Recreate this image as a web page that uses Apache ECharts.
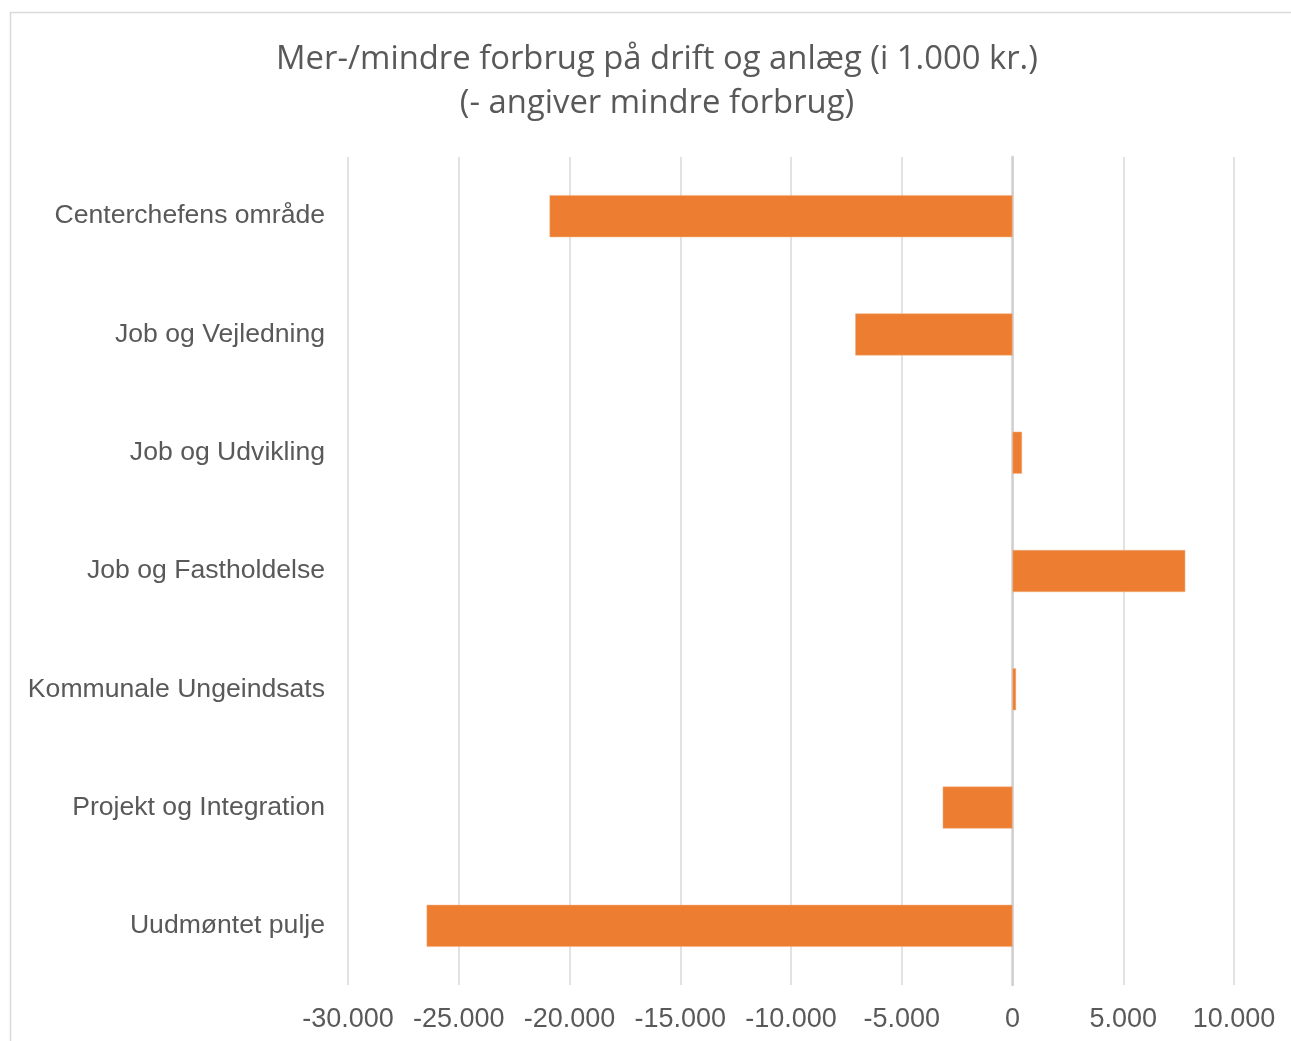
<!DOCTYPE html>
<html>
<head>
<meta charset="utf-8">
<script src="https://cdn.jsdelivr.net/npm/echarts@6/dist/echarts.min.js"></script>
<style>
  html, body { margin: 0; padding: 0; background: #fff; }
  #main { width: 1291px; height: 1041px; }
</style>
</head>
<body>
<div id="main"></div>
<script>
// categories top to bottom
var categories = ['Centerchefens område', 'Job og Vejledning', 'Job og Udvikling',
  'Job og Fastholdelse', 'Kommunale Ungeindsats', 'Projekt og Integration', 'Uudmøntet pulje'];
// values in 1.000 kr.
var values = [-20900, -7100, 430, 7800, 160, -3150, -26450];

var myChart = echarts.init(document.getElementById('main'));

function fmt(v) {
  var s = Math.abs(v).toString().replace(/\B(?=(\d{3})+(?!\d))/g, '.');
  return (v < 0 ? '-' : '') + s;
}

var option = {
  animation: false,
  backgroundColor: '#fff',
  graphic: [{
    type: 'rect',
    shape: { x: 10.5, y: 12.5, width: 1400, height: 1100 },
    style: { fill: 'none', stroke: '#d9d9d9', lineWidth: 1.5 },
    silent: true
  }],
  title: {
    text: 'Mer-/mindre forbrug på drift og anlæg (i 1.000 kr.)\n(- angiver mindre forbrug)',
    left: 652,
    top: 33,
    textAlign: 'center',
    textStyle: {
      fontFamily: 'Open Sans',
      fontWeight: 'normal',
      fontSize: 32.8,
      lineHeight: 44,
      color: '#595959'
    }
  },
  grid: { left: 348, right: 57, top: 157, bottom: 56, containLabel: false },
  xAxis: {
    type: 'value',
    min: -30000,
    max: 10000,
    interval: 5000,
    axisLine: { show: false },
    axisTick: { show: false },
    splitLine: { lineStyle: { color: '#d9d9d9', width: 1.5 } },
    axisLabel: {
      formatter: fmt,
      margin: 21,
      fontFamily: 'Liberation Sans',
      fontSize: 27,
      color: '#595959'
    }
  },
  yAxis: {
    type: 'category',
    data: categories,
    inverse: true,
    axisLine: { show: true, onZero: true, lineStyle: { color: '#d0d0d0', width: 2.5 } },
    axisTick: { show: false },
    axisLabel: {
      margin: 23,
      fontFamily: 'Liberation Sans',
      fontSize: 26.6,
      color: '#595959'
    }
  },
  series: [{
    type: 'bar',
    data: values,
    barWidth: 42,
    itemStyle: { color: '#ed7d31', borderColor: '#f4b183', borderWidth: 0.5 }
  }]
};

myChart.setOption(option);
</script>
</body>
</html>
